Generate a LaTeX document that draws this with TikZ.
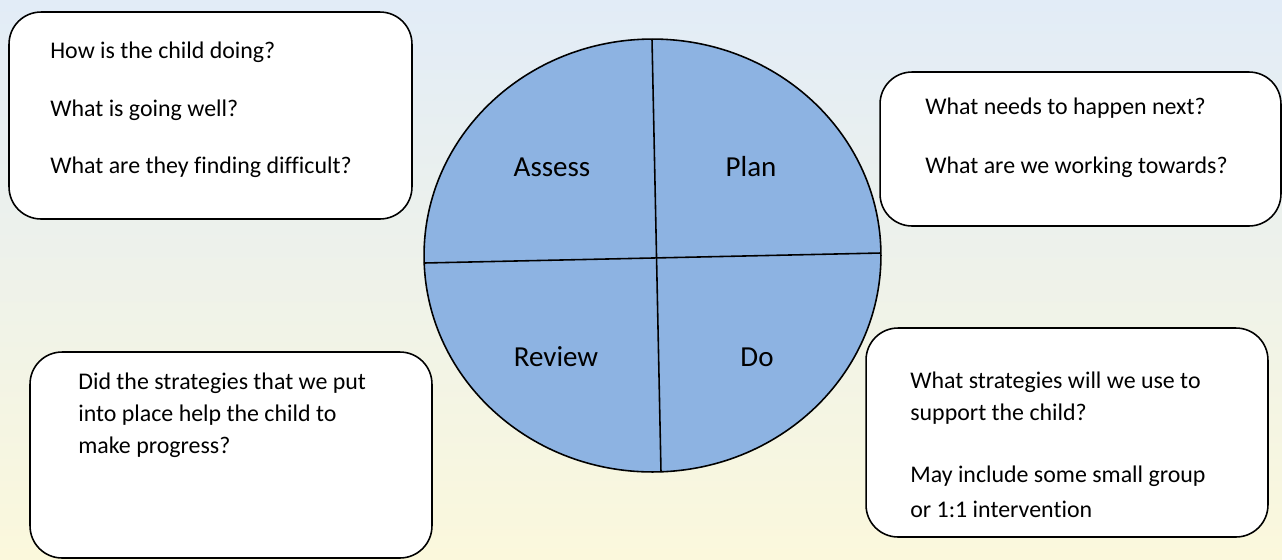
\documentclass[tikz,border=0pt]{standalone}
\usepackage{fontspec}
\setmainfont[Ligatures=NoCommon]{Carlito}
\usetikzlibrary{shapes.geometric}
\definecolor{wheelblue}{HTML}{8DB3E2}
\definecolor{bgtop}{HTML}{E2ECF7}
\definecolor{bgmid}{HTML}{F4F6EC}
\definecolor{bgbot}{HTML}{FBF8DC}
\begin{document}
\begin{tikzpicture}[x=0.02cm,y=-0.02cm,
  qbox/.style={draw,rectangle,rounded corners=0.64cm,line width=0.9pt,fill=white,inner sep=0pt},
  qtext/.style={anchor=west,font=\fontsize{13.6}{16}\selectfont,inner sep=0pt},
  stage/.style={font=\fontsize{16.5}{19}\selectfont,inner sep=0pt}]

\useasboundingbox (0,0) rectangle (1282,559);
\shade[top color=bgtop,middle color=bgmid,bottom color=bgbot] (0,0) rectangle (1282,559);

% question boxes
\node[qbox,minimum width=8.06cm,minimum height=4.14cm] (assessbox) at (210.5,115.5) {};
\node[qbox,minimum width=8.02cm,minimum height=3.08cm] (planbox) at (1080.5,149) {};
\node[qbox,minimum width=8.04cm,minimum height=4.12cm] (reviewbox) at (231,455) {};
\node[qbox,minimum width=8.04cm,minimum height=4.18cm] (dobox) at (1067,432.5) {};

\node[qtext] (a1) at (50,52) {How is the child doing?};
\node[qtext] (a2) at (50,110) {What is going well?};
\node[qtext] (a3) at (50,167) {What are they finding difficult?};

\node[qtext] (p1) at (925,108) {What needs to happen next?};
\node[qtext] (p2) at (925,167) {What are we working towards?};

\node[qtext] (r1) at (78,383) {Did the strategies that we put};
\node[qtext] (r2) at (78,415) {into place help the child to};
\node[qtext] (r3) at (78,447) {make progress?};

\node[qtext] (d1) at (910,382) {What strategies will we use to};
\node[qtext] (d2) at (910,414) {support the child?};
\node[qtext] (d3) at (910,476) {May include some small group};
\node[qtext] (d4) at (910,509) {or 1:1 intervention};

% the wheel
\node[draw,ellipse,line width=0.9pt,fill=wheelblue,inner sep=0pt,
  minimum width=9.14cm,minimum height=8.66cm] (wheel) at (652.5,255.5) {};
\coordinate (top) at (652,39);
\coordinate (bot) at (661,472);
\coordinate (lft) at (424,263);
\coordinate (rgt) at (881,253);
\draw[line width=0.9pt] (top) -- (bot);
\draw[line width=0.9pt] (lft) -- (rgt);

\node[stage] (assess) at (552,167) {Assess};
\node[stage] (plan) at (751,167) {Plan};
\node[stage] (review) at (556,357) {Review};
\node[stage] (do) at (757,357) {Do};

\end{tikzpicture}
\end{document}
